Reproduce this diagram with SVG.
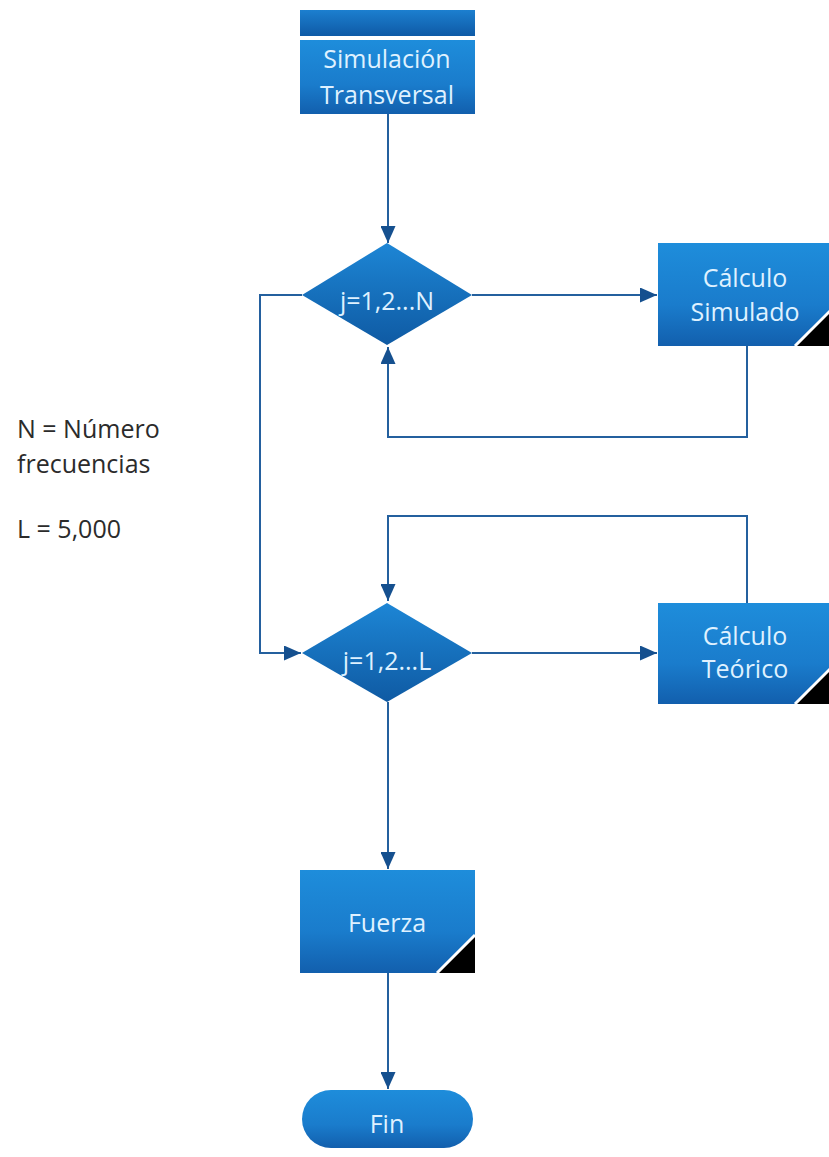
<svg xmlns="http://www.w3.org/2000/svg" width="829" height="1157" viewBox="0 0 829 1157">
<defs>
<linearGradient id="gBox" x1="0" y1="0" x2="0" y2="1">
<stop offset="0" stop-color="#1e8ddb"/>
<stop offset="0.6" stop-color="#1a7ccc"/>
<stop offset="1" stop-color="#125fad"/>
</linearGradient>
<linearGradient id="gBar" x1="0" y1="0" x2="0" y2="1">
<stop offset="0" stop-color="#1c7fcf"/>
<stop offset="1" stop-color="#0f5aa6"/>
</linearGradient>
<linearGradient id="gDia" x1="0" y1="0" x2="0" y2="1">
<stop offset="0" stop-color="#1d86d5"/>
<stop offset="1" stop-color="#0f5aa3"/>
</linearGradient>
<marker id="arr" markerUnits="userSpaceOnUse" markerWidth="17" markerHeight="15" viewBox="0 0 17 15" refX="17" refY="7.5" orient="auto">
<path d="M0,0 L17,7.5 L0,15 z" fill="#15508f"/>
</marker>
<style>
.box{fill:url(#gBox);}
.bar{fill:url(#gBar);}
.dia{fill:url(#gDia);}
.lbl{font-family:"Open Sans","Noto Sans",sans-serif;font-size:25px;fill:#dff1ff;text-anchor:middle;}
.note{font-family:"Open Sans","Noto Sans",sans-serif;font-size:25px;fill:#2b2b2b;}
.fold{fill:#000;}
.foldline{stroke:#fff;stroke-width:3;fill:none;}
.con{fill:none;stroke:#24609e;stroke-width:2;}
</style>
</defs>
<rect width="829" height="1157" fill="#fff"/>

<g id="connectors">
<path class="con" d="M388,114 V243" marker-end="url(#arr)"/>
<path class="con" d="M472,295 H657" marker-end="url(#arr)"/>
<path class="con" d="M747,346 V437 H388 V347" marker-end="url(#arr)"/>
<path class="con" d="M302,295 H260 V653 H301" marker-end="url(#arr)"/>
<path class="con" d="M747,603 V516 H388 V601" marker-end="url(#arr)"/>
<path class="con" d="M472,653 H657" marker-end="url(#arr)"/>
<path class="con" d="M388,702 V869" marker-end="url(#arr)"/>
<path class="con" d="M388,973 V1089" marker-end="url(#arr)"/>
</g>

<g id="start">
<rect class="bar" x="300" y="10" width="175" height="26"/>
<rect class="box" x="300" y="40" width="175" height="74"/>
<text class="lbl" x="387" y="68">Simulación</text>
<text class="lbl" x="387" y="104">Transversal</text>
</g>

<g id="loopN">
<polygon class="dia" points="387,243 472,295 387,345 302,295"/>
<text class="lbl" x="387" y="310">j=1,2...N</text>
</g>

<g id="calcSimulado">
<rect class="box" x="658" y="243" width="175" height="103"/>
<polygon class="fold" points="795,346 833,346 833,308"/>
<line class="foldline" x1="795" y1="346" x2="833" y2="308"/>
<text class="lbl" x="745" y="287">Cálculo</text>
<text class="lbl" x="745" y="321">Simulado</text>
</g>

<g id="loopL">
<polygon class="dia" points="387,603 472,653 387,702 302,653"/>
<text class="lbl" x="387" y="670">j=1,2...L</text>
</g>

<g id="calcTeorico">
<rect class="box" x="658" y="603" width="175" height="101"/>
<polygon class="fold" points="795,704 833,704 833,666"/>
<line class="foldline" x1="795" y1="704" x2="833" y2="666"/>
<text class="lbl" x="745" y="645">Cálculo</text>
<text class="lbl" x="745" y="678">Teórico</text>
</g>

<g id="fuerza">
<rect class="box" x="300" y="870" width="175" height="103"/>
<polygon class="fold" points="437,973 475,973 475,935"/>
<line class="foldline" x1="437" y1="973" x2="475" y2="935"/>
<text class="lbl" x="387" y="932">Fuerza</text>
</g>

<g id="fin">
<rect class="box" x="302" y="1090" width="171" height="58" rx="29" ry="29"/>
<text class="lbl" x="387" y="1133">Fin</text>
</g>

<g id="notes">
<text class="note" x="17" y="438">N = Número</text>
<text class="note" x="17" y="473">frecuencias</text>
<text class="note" x="17" y="538">L = 5,000</text>
</g>
</svg>
